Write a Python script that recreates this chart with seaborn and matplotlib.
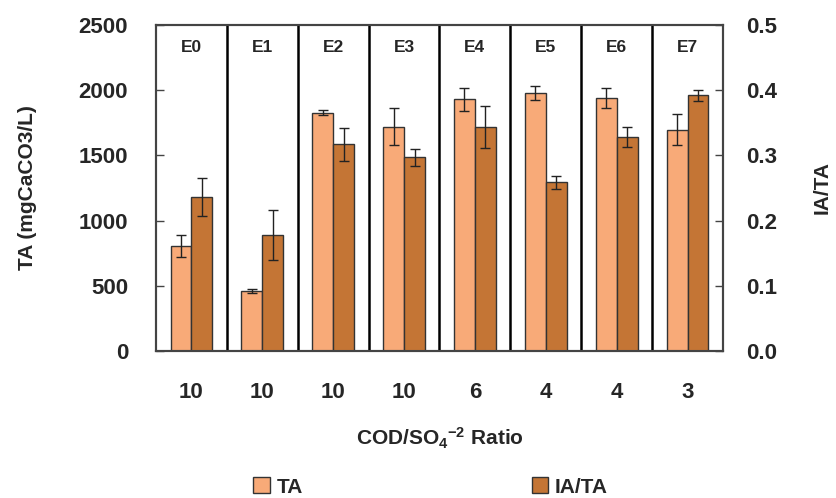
import pandas as pd
import numpy as np
import matplotlib
matplotlib.use('Agg')
import matplotlib.pyplot as plt
from matplotlib.patches import Patch
import seaborn as sns

# values
experiments = ['E0', 'E1', 'E2', 'E3', 'E4', 'E5', 'E6', 'E7']
ratio_labels = ['10', '10', '10', '10', '6', '4', '4', '3']
ta = [805, 460, 1827, 1720, 1930, 1978, 1940, 1697]
ta_err = [85, 15, 20, 140, 90, 55, 80, 120]
ia_ta = [0.236, 0.178, 0.317, 0.297, 0.344, 0.259, 0.328, 0.392]
ia_ta_err = [0.029, 0.038, 0.025, 0.013, 0.032, 0.010, 0.015, 0.008]

sns.set_theme(style='white')
plt.rcParams['font.family'] = ['Liberation Sans', 'DejaVu Sans']
plt.rcParams['font.weight'] = 'bold'
plt.rcParams['mathtext.fontset'] = 'custom'
plt.rcParams['mathtext.rm'] = 'Liberation Sans:bold'
plt.rcParams['mathtext.bf'] = 'Liberation Sans:bold'
plt.rcParams['mathtext.default'] = 'bf'
plt.rcParams['axes.unicode_minus'] = False

colors = {'TA': '#F8AA78', 'IA/TA': '#C47535'}
hue_order = ['TA', 'IA/TA']

df = pd.DataFrame({'exp': experiments, 'TA': ta, 'IA/TA': ia_ta})
long_df = df.melt(id_vars='exp', var_name='series', value_name='value')

fig = plt.figure(figsize=(8.36, 4.98), dpi=100)
ax1 = fig.add_axes([0.1866, 0.2952, 0.6782, 0.6546])
ax2 = ax1.twinx()

# TA on left axis, IA/TA on right axis, dodged as pairs
sns.barplot(data=long_df[long_df['series'] == 'TA'], x='exp', y='value', hue='series',
            hue_order=hue_order, palette=colors, width=0.59, dodge=True, saturation=1,
            errorbar=None, edgecolor='#333333', linewidth=1.0, legend=False, ax=ax1)
sns.barplot(data=long_df[long_df['series'] == 'IA/TA'], x='exp', y='value', hue='series',
            hue_order=hue_order, palette=colors, width=0.59, dodge=True, saturation=1,
            errorbar=None, edgecolor='#333333', linewidth=1.0, legend=False, ax=ax2)

# error bars at bar centres
x_ta = [p.get_x() + p.get_width() / 2 for p in ax1.patches]
x_ia = [p.get_x() + p.get_width() / 2 for p in ax2.patches]
ax1.errorbar(x_ta, ta, yerr=ta_err, fmt='none', ecolor='#222222', elinewidth=1.0,
             capsize=3.5, capthick=1.0)
ax2.errorbar(x_ia, ia_ta, yerr=ia_ta_err, fmt='none', ecolor='#222222', elinewidth=1.0,
             capsize=3.5, capthick=1.0)

ax1.set_ylim(0, 2500)
ax2.set_ylim(0, 0.5)
ax1.set_xlim(-0.5, 7.5)
ax2.set_xlim(-0.5, 7.5)
ax1.set_yticks(np.arange(0, 2501, 500))
ax2.set_yticks(np.arange(0, 0.51, 0.1))
ax2.set_yticklabels([f'{v:.1f}' for v in np.arange(0, 0.51, 0.1)])

ax1.set_xticks(range(len(experiments)))
ax1.set_xticklabels(ratio_labels, fontsize=16, fontweight='bold')
ax1.tick_params(axis='x', length=0, pad=22)
ax1.tick_params(axis='y', direction='in', length=6, width=1, color='#444444',
                labelsize=16, pad=20, left=True)
ax2.tick_params(axis='y', direction='in', length=6, width=1, color='#444444',
                labelsize=16, pad=17, right=True)
ax2.tick_params(axis='x', length=0, labelbottom=False)
for lab in ax1.get_yticklabels() + ax2.get_yticklabels():
    lab.set_fontweight('bold')

ax1.set_xlabel(r'COD/SO$_4$$^{-2}$ Ratio', fontsize=15, fontweight='bold', labelpad=17)
ax1.set_ylabel('TA (mgCaCO3/L)', fontsize=15, fontweight='bold', labelpad=30)
ax2.set_ylabel('IA/TA', fontsize=15, fontweight='bold', labelpad=25)

# panel dividers and experiment labels
for i in range(len(experiments) - 1):
    ax1.axvline(i + 0.5, color='black', linewidth=1.8, zorder=5)
for i, name in enumerate(experiments):
    ax1.text(i, 0.93, name, transform=ax1.get_xaxis_transform(), ha='center',
             va='center', fontsize=12.5, fontweight='bold')

for ax in (ax1, ax2):
    for s in ax.spines.values():
        s.set_color('#444444')
        s.set_linewidth(1.5)

handles = [Patch(facecolor=colors[k], edgecolor='#333333', label=k) for k in hue_order]
leg = fig.legend(handles=handles, loc='center', bbox_to_anchor=(0.515, 0.022), ncol=2,
                 frameon=False, prop={'size': 15, 'weight': 'bold'},
                 handlelength=0.8, handleheight=0.8, handletextpad=0.3, columnspacing=11)

fig.savefig('out.png', dpi=100)
